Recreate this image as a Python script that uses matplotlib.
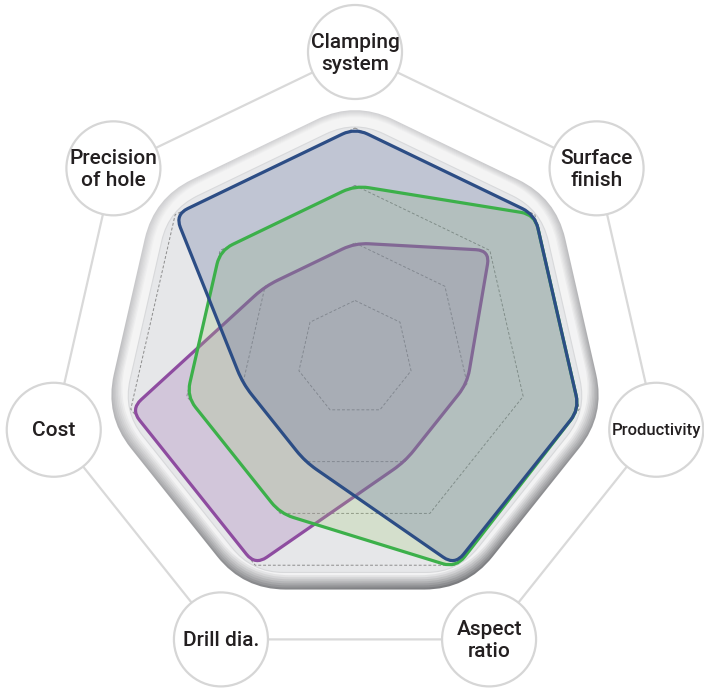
import numpy as np
import matplotlib
matplotlib.use("Agg")
import matplotlib.pyplot as plt
from matplotlib.path import Path
from matplotlib.patches import PathPatch, Circle
import matplotlib.colors as mcolors

# ratings per criterion, scale 0-4
categories = ["Clamping\nsystem", "Surface\nfinish", "Productivity", "Aspect\nratio",
              "Drill dia.", "Cost", "Precision\nof hole"]
blue_vals = [4, 4, 4, 4, 2, 2, 4]
green_vals = [3, 4, 4, 4.05, 3, 3, 3]
purple_vals = [2, 3, 2, 2, 4, 4, 2]
rings = [1, 2, 3, 4]

W, H = 704, 688
cx, cy = 355, 358
unit = 57.5
n = len(categories)
ang = np.arange(n) * 2 * np.pi / n


def polar(r, cx=cx, cy=cy):
    return np.column_stack([cx + r * np.sin(ang), cy - r * np.cos(ang)])


def rounded_path(pts, rad):
    verts, codes = [], []
    m = len(pts)
    for i in range(m):
        p = pts[i]
        a = pts[i - 1]
        b = pts[(i + 1) % m]
        da, db = a - p, b - p
        ta = min(rad / np.hypot(*da), 0.5)
        tb = min(rad / np.hypot(*db), 0.5)
        verts.append(p + da * ta)
        codes.append(Path.MOVETO if i == 0 else Path.LINETO)
        verts += [p, p + db * tb]
        codes += [Path.CURVE3, Path.CURVE3]
    verts.append(verts[0])
    codes.append(Path.CLOSEPOLY)
    return Path(np.array(verts), codes)


def gradient_fill(ax, path, top, bottom, z):
    x0, y0 = path.vertices.min(axis=0) - 2
    x1, y1 = path.vertices.max(axis=0) + 2
    xs = np.linspace(x0, x1, 200)
    ys = np.linspace(y0, y1, 200)
    X, Y = np.meshgrid(xs, ys)
    t = ((X - cx) * 0.25 + (Y - cy)) / 260
    t = np.clip((t + 1) / 2, 0, 1) ** 1.6
    c0 = np.array(mcolors.to_rgb(top))
    c1 = np.array(mcolors.to_rgb(bottom))
    img = c0 + (c1 - c0) * t[..., None]
    patch = PathPatch(path, facecolor="none", edgecolor="none")
    ax.add_patch(patch)
    im = ax.imshow(img, extent=(x0, x1, y1, y0), origin="upper",
                   aspect="auto", zorder=z, interpolation="bilinear")
    im.set_clip_path(patch)


fig = plt.figure(figsize=(W / 100, H / 100), dpi=100)
ax = fig.add_axes([0, 0, 1, 1])
plt.rcParams["font.family"] = ["Roboto", "Liberation Sans", "DejaVu Sans"]

# label bubbles and the lines joining them
lab = polar(309, cy=361)
ax.plot(np.append(lab[:, 0], lab[0, 0]), np.append(lab[:, 1], lab[0, 1]),
        color="#d9d9d9", lw=1.6, zorder=1)
for (x, y), name in zip(lab, categories):
    ax.add_patch(Circle((x, y), 47, facecolor="white", edgecolor="#d6d6d6",
                        lw=1.6, zorder=2))
    size = 12 if name == "Productivity" else 15
    ax.text(x, y + 1, name, ha="center", va="center", fontsize=size,
            fontweight="medium", color="#231f20", linespacing=1.2, zorder=12)

# bevelled plate
steps = 8
top_a, top_b = np.array(mcolors.to_rgb("#d3d3d5")), np.array(mcolors.to_rgb("#f5f5f5"))
bot_a, bot_b = np.array(mcolors.to_rgb("#7a7b7e")), np.array(mcolors.to_rgb("#f2f2f3"))
for k in range(steps):
    f = k / (steps - 1)
    r = 257 - 1.6 * k
    p = rounded_path(polar(r, cy=cy - 0.6 * k), 42)
    gradient_fill(ax, p, top_a + (top_b - top_a) * f, bot_a + (bot_b - bot_a) * f, 3 + k * 0.01)

panel = rounded_path(polar(238), 32)
ax.add_patch(PathPatch(panel, facecolor="#e6e7e9", edgecolor="#d8d9db", lw=0.8, zorder=4))

# dashed grid rings
for lev in rings:
    pts = polar(lev * unit)
    pts = np.vstack([pts, pts[:1]])
    ax.plot(pts[:, 0], pts[:, 1], color="#8c8c8c", lw=0.7, ls=(0, (3, 2)), zorder=5)

series = [
    (purple_vals, "#8e4ca0", "#9e6fb5"),
    (green_vals, "#3cb04a", "#a2cb79"),
    (blue_vals, "#2c4d85", "#526395"),
]
paths = [rounded_path(polar(np.array(v) * unit), 14) for v, _, _ in series]

# purple underneath, then the green and blue fills, then their outlines
ax.add_patch(PathPatch(paths[0], facecolor=mcolors.to_rgba(series[0][2], 0.27),
                       edgecolor=series[0][1], lw=2.3, zorder=6))
ax.add_patch(PathPatch(paths[1], facecolor=mcolors.to_rgba(series[1][2], 0.25),
                       edgecolor="none", zorder=7))
ax.add_patch(PathPatch(paths[2], facecolor=mcolors.to_rgba(series[2][2], 0.25),
                       edgecolor="none", zorder=8))
ax.add_patch(PathPatch(paths[1], facecolor="none", edgecolor=series[1][1], lw=2.3, zorder=9))
ax.add_patch(PathPatch(paths[2], facecolor="none", edgecolor=series[2][1], lw=2.3, zorder=10))

ax.set_xlim(0, W)
ax.set_ylim(H, 0)
ax.axis("off")
fig.savefig("out.png", dpi=100, facecolor="white")
